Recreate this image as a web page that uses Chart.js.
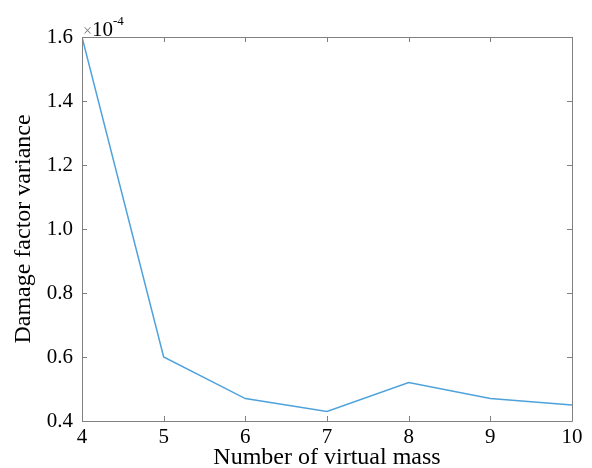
<!DOCTYPE html>
<html>
<head>
<meta charset="utf-8">
<script src="https://cdn.jsdelivr.net/npm/chart.js@4.4.1/dist/chart.umd.min.js"></script>
<style>
html,body{margin:0;padding:0;background:#fff;}
#wrap{width:592px;height:468px;position:relative;}
</style>
</head>
<body>
<div id="wrap"><canvas id="c" width="592" height="468"></canvas></div>
<script>
// Data (values in units of 1e-4)
const virtualMass = [4, 5, 6, 7, 8, 9, 10];
const damageVariance = [1.60, 0.60, 0.47, 0.43, 0.52, 0.47, 0.45];
const yTicks = [0.4, 0.6, 0.8, 1.0, 1.2, 1.4, 1.6];
const xTicks = [4, 5, 6, 7, 8, 9, 10];
const exponentLabel = "-4";

const axisColor = '#808080';
const fontFam = '"Liberation Serif", "DejaVu Serif", serif';

const boxPlugin = {
  id: 'box',
  afterDatasetsDraw(chart) {
    const ctx = chart.ctx, a = chart.chartArea;
    const xs = chart.scales.x, ys = chart.scales.y;
    ctx.save();
    ctx.strokeStyle = axisColor;
    ctx.lineWidth = 1;
    ctx.beginPath();
    ctx.rect(Math.round(a.left) + 0.5, Math.round(a.top) + 0.5, Math.round(a.right - a.left), Math.round(a.bottom - a.top));
    ctx.stroke();
    const L = 5;
    ctx.beginPath();
    xTicks.forEach(v => {
      const px = Math.round(xs.getPixelForValue(v)) + 0.5;
      ctx.moveTo(px, a.bottom); ctx.lineTo(px, a.bottom - L);
      ctx.moveTo(px, a.top); ctx.lineTo(px, a.top + L);
    });
    yTicks.forEach(v => {
      const py = Math.round(ys.getPixelForValue(v)) + 0.5;
      ctx.moveTo(a.left, py); ctx.lineTo(a.left + L, py);
      ctx.moveTo(a.right, py); ctx.lineTo(a.right - L, py);
    });
    ctx.stroke();
    // exponent label
    ctx.textBaseline = 'alphabetic';
    ctx.font = '16px ' + fontFam;
    ctx.fillStyle = axisColor;
    ctx.fillText('\u00d7', a.left + 1, a.top - 1);
    ctx.fillStyle = '#000';
    ctx.font = '21px ' + fontFam;
    ctx.fillText('10', a.left + 10, a.top - 1);
    ctx.font = '13px ' + fontFam;
    ctx.fillText(exponentLabel, a.left + 31, a.top - 12);
    ctx.restore();
  }
};

new Chart(document.getElementById('c'), {
  type: 'line',
  data: {
    datasets: [{
      data: virtualMass.map((x, i) => ({x: x, y: damageVariance[i]})),
      borderColor: '#4ea2dc',
      borderWidth: 1.5,
      pointRadius: 0,
      tension: 0,
      fill: false
    }]
  },
  options: {
    responsive: false,
    animation: false,
    events: [],
    layout: {padding: {left: 0, top: 37, right: 20, bottom: 0}},
    plugins: {legend: {display: false}, tooltip: {enabled: false}},
    scales: {
      x: {
        type: 'linear', min: 4, max: 10,
        afterBuildTicks(s) { s.ticks = xTicks.map(v => ({value: v})); },
        afterFit(s) { s.height = 47; },
        grid: {display: false, drawTicks: false},
        border: {display: false},
        ticks: {padding: 4, color: '#000', font: {family: fontFam, size: 21}, maxRotation: 0,
          callback: v => String(v)},
        title: {display: true, text: 'Number of virtual mass', color: '#000',
          font: {family: fontFam, size: 24, lineHeight: 0.85}, padding: {top: 0, bottom: 0}}
      },
      y: {
        type: 'linear', min: 0.4, max: 1.6,
        afterBuildTicks(s) { s.ticks = yTicks.map(v => ({value: v})); },
        afterFit(s) { s.width = 82; },
        grid: {display: false, drawTicks: false},
        border: {display: false},
        ticks: {padding: 9, color: '#000', font: {family: fontFam, size: 21},
          callback: v => Number(v).toFixed(1)},
        title: {display: true, text: 'Damage factor variance', color: '#000',
          font: {family: fontFam, size: 24, lineHeight: 1.0}, padding: {top: 12, bottom: 0}}
      }
    }
  },
  plugins: [boxPlugin]
});
</script>
</body>
</html>
